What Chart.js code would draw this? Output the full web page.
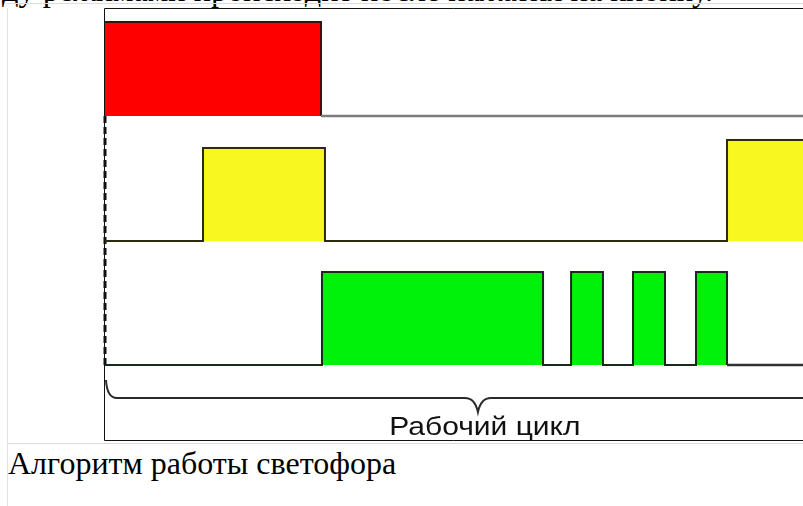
<!DOCTYPE html>
<html lang="ru">
<head>
<meta charset="utf-8">
<title>Алгоритм работы светофора</title>
<script src="https://cdn.jsdelivr.net/npm/chart.js@4.4.1/dist/chart.umd.min.js"></script>
<style>
    html, body { margin: 0; padding: 0; background: #fff; overflow: hidden; }
    body { width: 803px; height: 506px; position: relative; }
    #chart { position: absolute; left: 0; top: 0; }
    .txt { position: absolute; font-family: "Liberation Serif", "Times New Roman", serif; font-size: 32px; line-height: 32px; white-space: nowrap; color: #000; }
    #top-text { left: 2px; top: -26px; font-size: 32.4px; }
    #caption { left: 8px; top: 447px; }
    .cell-v { position: absolute; left: 7px; top: 8px; width: 1px; height: 498px; background: #e2e2e2; }
    .cell-h { position: absolute; left: 7px; width: 796px; height: 1px; background: #dcdcdc; }
</style>
</head>
<body>
<div class="txt" id="top-text">ду режимами происходит после нажатия на кнопку.</div>
<div class="cell-h" style="top:3px"></div>
<div class="cell-v"></div>
<div class="cell-h" style="top:443px"></div>
<div class="txt" id="caption">Алгоритм работы светофора</div>
<canvas id="chart" width="803" height="506"></canvas>
<script>
// Временная диаграмма: моменты переключения (ось времени 0..70) и уровни сигнала
const redTimes = [0, 21.66, 70];
const redLevels = [0.94, 0, 0];

const yellowTimes = [0, 9.83, 22.06, 62.38, 70];
const yellowLevels = [0, 0.93, 0, 1.01, 1.01];

const greenTimes = [0, 21.76, 43.93, 46.74, 49.94, 52.95, 56.16, 59.27, 62.38, 70];
const greenLevels = [0, 0.93, 0, 0.93, 0, 0.93, 0, 0.93, 0, 0];

const cycleLabel = 'Рабочий цикл';

// Базовые линии дорожек (в единицах оси Y)
const laneBase = { red: 2.49, yellow: 1.24, green: 0 };

function toPoints(times, levels, base) {
    return times.map(function(t, i) {
        return { x: t, y: base + levels[i] };
    });
}

function lane(times, levels, base, fillColor, edgeColor, baseColor, baseWidth) {
    return {
        data: toPoints(times, levels, base),
        stepped: 'before',
        fill: { value: base },
        backgroundColor: fillColor,
        borderColor: edgeColor,
        borderWidth: 2,
        pointRadius: 0,
        clip: false,
        segment: {
            borderColor: function(ctx) {
                return (ctx.p0.parsed.y === base && ctx.p1.parsed.y === base) ? baseColor : undefined;
            },
            borderWidth: function(ctx) {
                return (ctx.p0.parsed.y === base && ctx.p1.parsed.y === base) ? baseWidth : undefined;
            }
        }
    };
}

// Рамка рисунка
const framePlugin = {
    id: 'frame',
    beforeDatasetsDraw: function(chart) {
        const a = chart.chartArea;
        const ctx = chart.ctx;
        ctx.save();
        ctx.strokeStyle = '#111';
        ctx.lineWidth = 1;
        ctx.beginPath();
        ctx.moveTo(chart.width, a.top - 0.5);
        ctx.lineTo(a.left - 0.5, a.top - 0.5);
        ctx.lineTo(a.left - 0.5, a.bottom + 0.5);
        ctx.lineTo(chart.width, a.bottom + 0.5);
        ctx.stroke();
        ctx.restore();
    }
};

// Фигурная скобка и подпись «Рабочий цикл»
const bracePlugin = {
    id: 'brace',
    afterDatasetsDraw: function(chart) {
        const xs = chart.scales.x;
        const ys = chart.scales.y;
        const ctx = chart.ctx;
        const x0 = xs.getPixelForValue(0.1);
        const x1 = xs.getPixelForValue(70);
        const xm = xs.getPixelForValue(37.4);
        const yStart = ys.getPixelForValue(-0.15);
        const yLine = ys.getPixelForValue(-0.33);
        const yTip = ys.getPixelForValue(-0.47);

        ctx.save();
        ctx.strokeStyle = '#2a2a2a';
        ctx.lineWidth = 2;
        ctx.beginPath();
        ctx.moveTo(x0, yStart);
        ctx.quadraticCurveTo(x0 + 1, yLine, x0 + 11, yLine);
        ctx.lineTo(xm - 13, yLine);
        ctx.quadraticCurveTo(xm - 3, yLine, xm, yTip);
        ctx.quadraticCurveTo(xm + 3, yLine, xm + 13, yLine);
        ctx.lineTo(x1, yLine);
        ctx.stroke();

        ctx.fillStyle = '#111';
        ctx.font = '25px "Liberation Sans", Arial, sans-serif';
        ctx.textAlign = 'center';
        ctx.textBaseline = 'alphabetic';
        ctx.translate(xs.getPixelForValue(38.1), ys.getPixelForValue(-0.70));
        ctx.scale(1.2, 1);
        ctx.fillText(cycleLabel, 0, 0);
        ctx.restore();
    }
};

const dashed = {
    data: [{ x: 0, y: laneBase.red }, { x: 0, y: laneBase.green }],
    borderColor: '#111',
    borderWidth: 3,
    borderDash: [7, 4],
    pointRadius: 0,
    fill: false,
    clip: false
};

new Chart(document.getElementById('chart'), {
    type: 'line',
    data: {
        datasets: [
            lane(redTimes, redLevels, laneBase.red, '#ff0000', '#3a1010', '#7d7d7d', 2.5),
            lane(yellowTimes, yellowLevels, laneBase.yellow, '#f8f820', '#2b2b10', '#111', 1.5),
            lane(greenTimes, greenLevels, laneBase.green, '#00f20a', '#1a2a1a', '#333', 2.5),
            dashed
        ]
    },
    options: {
        responsive: false,
        animation: false,
        layout: { padding: { left: 105, top: 9, right: 0, bottom: 66 } },
        scales: {
            x: { type: 'linear', min: 0, max: 70, display: false },
            y: { type: 'linear', min: -0.75, max: 3.56, display: false }
        },
        plugins: {
            legend: { display: false },
            tooltip: { enabled: false }
        }
    },
    plugins: [framePlugin, bracePlugin]
});
</script>
</body>
</html>
